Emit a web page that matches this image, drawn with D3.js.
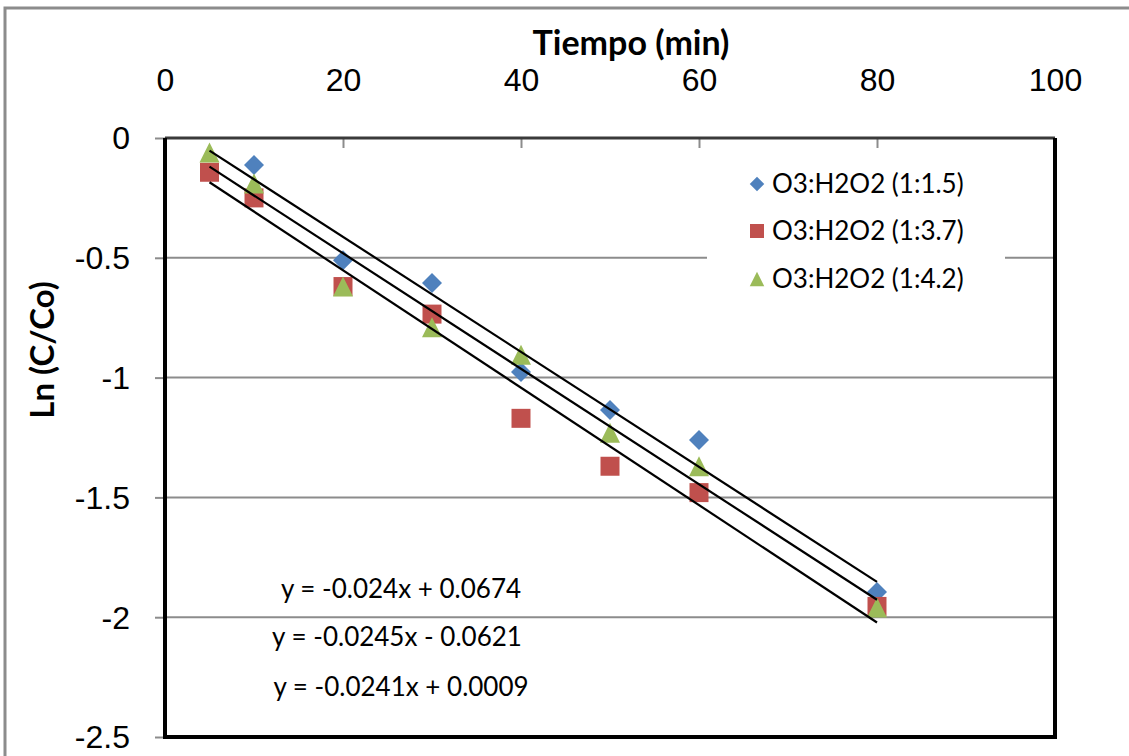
<!DOCTYPE html>
<html lang="es">

<head>
    <meta charset="UTF-8">
    <script src="https://d3js.org/d3.v7.min.js"></script>
    <title>Ln (C/Co) vs Tiempo</title>
    <style>
        body { margin: 0; background: #fff; }
        svg { display: block; font-family: Lato, "Open Sans", sans-serif; }
        .tick text { font-size: 32px; fill: #000; }
        .tick line { stroke: #8c8c8c; stroke-width: 2; }
    </style>
</head>

<body>
    <div id="chart"></div>
    <script>
        // Data
        const tiempo = [5, 10, 20, 30, 40, 50, 60, 80];
        const serie15 = [null, -0.113, -0.51, -0.605, -0.977, -1.135, -1.26, -1.895];
        const serie37 = [-0.143, -0.25, -0.62, -0.735, -1.17, -1.37, -1.48, -1.955];
        const serie42 = [-0.06, -0.19, -0.62, -0.79, -0.905, -1.23, -1.37, -1.96];
        const seriesNames = ["O3:H2O2 (1:1.5)", "O3:H2O2 (1:3.7)", "O3:H2O2 (1:4.2)"];
        const slopes = [-0.024, -0.0245, -0.0241];
        const intercepts = [0.0674, -0.0621, 0.0009];
        const equations = ["y = -0.024x + 0.0674", "y = -0.0245x - 0.0621", "y = -0.0241x + 0.0009"];
        const xTicks = [0, 20, 40, 60, 80, 100];
        const yTicks = [0, -0.5, -1, -1.5, -2, -2.5];

        const width = 1129;
        const height = 756;
        const plot = { left: 165, right: 1055, top: 138, bottom: 737 };
        const colors = ["#4F81BD", "#C0504D", "#9BBB59"];

        // Excel-like marker shapes
        const diamond = {
            draw(ctx, size) {
                const r = Math.sqrt(size) / 2;
                ctx.moveTo(0, -r); ctx.lineTo(r, 0); ctx.lineTo(0, r); ctx.lineTo(-r, 0); ctx.closePath();
            }
        };
        const square = {
            draw(ctx, size) {
                const r = Math.sqrt(size) / 2;
                ctx.rect(-r, -r, 2 * r, 2 * r);
            }
        };
        const triangle = {
            draw(ctx, size) {
                const r = Math.sqrt(size) / 2;
                ctx.moveTo(0, -r); ctx.lineTo(r, r); ctx.lineTo(-r, r); ctx.closePath();
            }
        };
        const shapes = [diamond, square, triangle];
        const markerSize = [20 * 20, 19 * 19, 20 * 20];

        const svg = d3.select("#chart")
            .append("svg")
            .attr("width", width)
            .attr("height", height);

        // Outer chart border
        svg.append("rect")
            .attr("x", 5)
            .attr("y", 8)
            .attr("width", width + 10)
            .attr("height", height + 10)
            .attr("fill", "#fff")
            .attr("stroke", "#8c8c8c")
            .attr("stroke-width", 3);

        const x = d3.scaleLinear().domain([0, 100]).range([plot.left, plot.right]);
        const y = d3.scaleLinear().domain([-2.5, 0]).range([plot.bottom, plot.top]);

        // Gridlines
        svg.append("g")
            .selectAll("line")
            .data(yTicks.filter(d => d !== 0 && d !== -2.5))
            .join("line")
            .attr("x1", plot.left)
            .attr("x2", plot.right)
            .attr("y1", d => y(d))
            .attr("y2", d => y(d))
            .attr("stroke", "#8c8c8c")
            .attr("stroke-width", 2);

        // Axes
        const yAxis = svg.append("g")
            .attr("transform", `translate(${plot.left},0)`)
            .call(d3.axisLeft(y).tickValues(yTicks).tickSize(10).tickPadding(25).tickFormat(d => String(d)));
        yAxis.select(".domain").remove();
        yAxis.selectAll(".tick text").attr("dy", "0.34em");

        const xAxis = svg.append("g")
            .attr("transform", `translate(0,${plot.top})`)
            .call(d3.axisTop(x).tickValues(xTicks).tickSize(-10).tickPadding(47).tickFormat(d => String(d)));
        xAxis.select(".domain").remove();

        // Plot area border
        svg.append("line")
            .attr("x1", plot.left).attr("x2", plot.right)
            .attr("y1", plot.top).attr("y2", plot.top)
            .attr("stroke", "#3a3a3a").attr("stroke-width", 3);
        svg.append("path")
            .attr("d", `M${plot.left},${plot.top} V${plot.bottom} H${plot.right} V${plot.top}`)
            .attr("fill", "none")
            .attr("stroke", "#000")
            .attr("stroke-width", 4);

        // Legend box
        const legend = svg.append("g");
        legend.append("rect")
            .attr("x", 707).attr("y", 152)
            .attr("width", 298).attr("height", 150)
            .attr("fill", "#fff");

        // Markers
        const seriesData = [serie15, serie37, serie42].map(vals =>
            tiempo.map((t, i) => ({ t, v: vals[i] })).filter(d => d.v !== null));

        seriesData.forEach((pts, k) => {
            svg.append("g")
                .selectAll("path")
                .data(pts)
                .join("path")
                .attr("transform", d => `translate(${x(d.t)},${y(d.v)})`)
                .attr("d", d3.symbol().type(shapes[k]).size(markerSize[k]))
                .attr("fill", colors[k]);
        });

        // Trendlines
        const xRange = d3.extent(tiempo);
        svg.append("g")
            .selectAll("line")
            .data(slopes)
            .join("line")
            .attr("x1", x(xRange[0]))
            .attr("x2", x(xRange[1]))
            .attr("y1", (m, i) => y(m * xRange[0] + intercepts[i]))
            .attr("y2", (m, i) => y(m * xRange[1] + intercepts[i]))
            .attr("stroke", "#000")
            .attr("stroke-width", 2.2);

        // Legend entries
        const rowY = [184, 231, 279];
        const legRows = legend.selectAll("g.row")
            .data(seriesNames)
            .join("g")
            .attr("class", "row")
            .attr("transform", (d, i) => `translate(757,${rowY[i]})`);
        legRows.append("path")
            .attr("d", (d, i) => d3.symbol().type(shapes[i]).size(i === 1 ? 196 : 210)())
            .attr("fill", (d, i) => colors[i]);
        legRows.append("text")
            .attr("x", 15)
            .attr("dy", "0.35em")
            .attr("font-size", 26)
            .text(d => d);

        // Equations
        const eqY = [598, 646, 696];
        const eqX = [401, 397, 401];
        svg.append("g")
            .selectAll("text")
            .data(equations)
            .join("text")
            .attr("x", (d, i) => eqX[i])
            .attr("y", (d, i) => eqY[i])
            .attr("text-anchor", "middle")
            .attr("font-size", 26)
            .text(d => d);

        // Axis titles
        svg.append("text")
            .attr("x", 631)
            .attr("y", 55)
            .attr("text-anchor", "middle")
            .attr("font-size", 34)
            .attr("font-weight", 700)
            .text("Tiempo (min)");

        svg.append("text")
            .attr("transform", "translate(54,350) rotate(-90)")
            .attr("text-anchor", "middle")
            .attr("font-size", 33)
            .attr("font-weight", 700)
            .text("Ln (C/Co)");
    </script>
</body>

</html>
